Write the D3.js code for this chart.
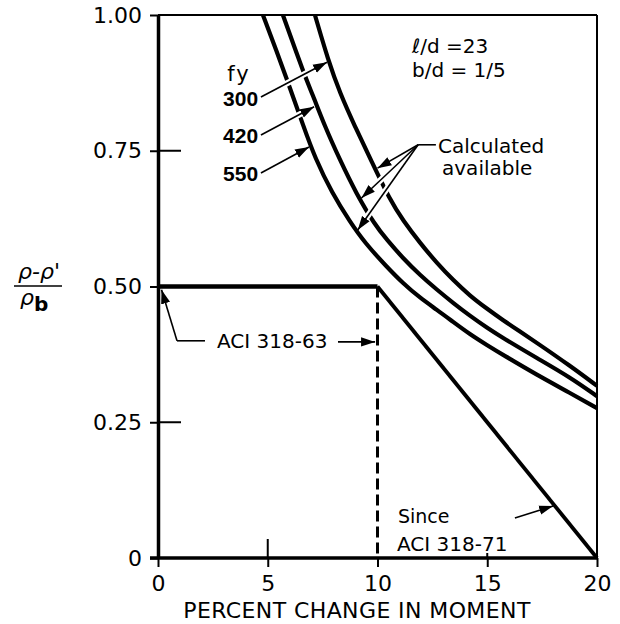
<!DOCTYPE html>
<html>
<head>
<meta charset="utf-8">
<script src="https://cdn.jsdelivr.net/npm/d3@7"></script>
<style>
  html, body { margin: 0; padding: 0; background: #fff; }
  svg { display: block; }
  text { font-family: "DejaVu Sans", sans-serif; fill: #000; }
</style>
</head>
<body>
<div id="chart"></div>
<script>
// ---------- data ----------
const xTicks = [0, 5, 10, 15, 20];
const xTickLabels = ["0", "5", "10", "15", "20"];
const yTicks = [0, 0.25, 0.5, 0.75, 1];
const yTickLabels = ["0", "0.25", "0.50", "0.75", "1.00"];
const xTitle = "PERCENT CHANGE IN MOMENT";

// calculated available curves, one per fy
const fyLabels = ["300", "420", "550"];
const curve300X = [7.15, 7.75, 8.29, 8.98, 9.70, 10.57, 11.16, 11.94, 12.71, 13.44, 14.21, 14.99, 15.72, 16.49, 17.27, 18.77, 20];
const curve300Y = [1.00, 0.917, 0.856, 0.794, 0.733, 0.659, 0.622, 0.580, 0.543, 0.512, 0.483, 0.459, 0.438, 0.417, 0.396, 0.354, 0.317];
const curve420X = [5.69, 6.70, 7.02, 7.61, 8.29, 9.02, 9.89, 10.43, 11.16, 11.94, 12.71, 13.44, 14.21, 14.99, 15.72, 17.27, 18.77, 20];
const curve420Y = [1.00, 0.886, 0.856, 0.794, 0.733, 0.672, 0.613, 0.586, 0.552, 0.521, 0.494, 0.470, 0.446, 0.424, 0.405, 0.368, 0.333, 0.298];
const curve550X = [4.78, 5.38, 6.01, 6.61, 7.15, 7.93, 8.75, 9.43, 10.43, 11.16, 11.94, 12.71, 13.44, 14.21, 14.99, 15.72, 17.27, 18.77, 20];
const curve550Y = [1.00, 0.936, 0.866, 0.797, 0.737, 0.672, 0.619, 0.580, 0.536, 0.506, 0.479, 0.457, 0.435, 0.412, 0.392, 0.374, 0.337, 0.304, 0.276];

// code limits
const aci63X = [0, 10];
const aci63Y = [0.5, 0.5];
const aci63DropX = [10, 10];
const aci63DropY = [0.5, 0];
const aci71X = [10, 20];
const aci71Y = [0.5, 0];

// ---------- layout ----------
const W = 620, H = 624;
const x = d3.scaleLinear().domain([0, 20]).range([158, 597]);
const y = d3.scaleLinear().domain([0, 1]).range([558, 15]);

const svg = d3.select("#chart").append("svg").attr("width", W).attr("height", H);

const defs = svg.append("defs");
defs.append("marker")
  .attr("id", "ah")
  .attr("viewBox", "-14 -5 15 10")
  .attr("refX", 0).attr("refY", 0)
  .attr("markerWidth", 15).attr("markerHeight", 10)
  .attr("markerUnits", "userSpaceOnUse")
  .attr("orient", "auto")
  .append("path").attr("d", "M0,0L-14,-4.6L-14,4.6Z").attr("fill", "#000");

const zip = (xs, ys) => xs.map((v, i) => [v, ys[i]]);
const line = d3.line().x(d => x(d[0])).y(d => y(d[1]));
const smooth = d3.line().x(d => x(d[0])).y(d => y(d[1])).curve(d3.curveBasis);

// ---------- frame ----------
svg.append("line").attr("x1", x(0)).attr("x2", x(20)).attr("y1", y(1)).attr("y2", y(1))
  .attr("stroke", "#000").attr("stroke-width", 2);
svg.append("line").attr("x1", x(20)).attr("x2", x(20)).attr("y1", y(1)).attr("y2", y(0))
  .attr("stroke", "#000").attr("stroke-width", 2);

// y axis
const yAxis = d3.axisLeft(y).tickValues(yTicks).tickSize(8).tickSizeOuter(0)
  .tickFormat((d, i) => yTickLabels[i]).tickPadding(8);
const gy = svg.append("g").attr("transform", `translate(${x(0)},0)`).call(yAxis);
gy.select(".domain").attr("stroke-width", 3.5);
gy.selectAll(".tick line").attr("stroke-width", 2);
gy.selectAll(".tick text").attr("font-size", 22).attr("font-family", "DejaVu Sans").attr("fill", "#000");
svg.selectAll(".yin").data(yTicks.filter(v => v === 0.25 || v === 0.75)).enter().append("line")
  .attr("x1", x(0)).attr("x2", x(0) + 23).attr("y1", d => y(d)).attr("y2", d => y(d))
  .attr("stroke", "#000").attr("stroke-width", 2);

// x axis
const xAxis = d3.axisBottom(x).tickValues(xTicks).tickSize(9).tickSizeOuter(0)
  .tickFormat((d, i) => xTickLabels[i]).tickPadding(8);
const gx = svg.append("g").attr("transform", `translate(0,${y(0)})`).call(xAxis);
gx.select(".domain").attr("stroke-width", 3.5).attr("d", `M${x(0) - 8},0H${x(20)}`);
gx.selectAll(".tick line").attr("stroke-width", 2);
gx.selectAll(".tick text").attr("font-size", 22).attr("font-family", "DejaVu Sans").attr("fill", "#000");
svg.selectAll(".xin").data(xTicks.filter(v => v === 5 || v === 15)).enter().append("line")
  .attr("x1", d => x(d)).attr("x2", d => x(d))
  .attr("y1", y(0)).attr("y2", d => y(0) - (d === 5 ? 19 : 5))
  .attr("stroke", "#000").attr("stroke-width", 2);

// axis titles
svg.append("text").attr("x", 357).attr("y", 618).attr("text-anchor", "middle")
  .attr("font-size", 22).attr("letter-spacing", 0.4).text(xTitle);

const yl = svg.append("g");
yl.append("text").attr("x", 39).attr("y", 279).attr("text-anchor", "middle")
  .attr("font-size", 22).attr("font-style", "italic").text("ρ-ρ'");
yl.append("line").attr("x1", 14).attr("x2", 62).attr("y1", 286).attr("y2", 286)
  .attr("stroke", "#000").attr("stroke-width", 1.6);
const den = yl.append("text").attr("x", 20).attr("y", 305).attr("font-size", 22);
den.append("tspan").attr("font-style", "italic").text("ρ");
den.append("tspan").attr("dy", 6).attr("font-weight", "bold").attr("font-size", 20).text("b");

// ---------- marks ----------
const curves = [zip(curve300X, curve300Y), zip(curve420X, curve420Y), zip(curve550X, curve550Y)];
svg.selectAll(".curve").data(curves).enter().append("path")
  .attr("class", "curve").attr("d", smooth)
  .attr("fill", "none").attr("stroke", "#000").attr("stroke-width", 4.2);

svg.append("path").attr("d", line(zip(aci63X, aci63Y)))
  .attr("fill", "none").attr("stroke", "#000").attr("stroke-width", 4.5);
svg.append("path").attr("d", line(zip(aci63DropX, aci63DropY)))
  .attr("fill", "none").attr("stroke", "#000").attr("stroke-width", 3).attr("stroke-dasharray", "11,5");
svg.append("path").attr("d", line(zip(aci71X, aci71Y)))
  .attr("fill", "none").attr("stroke", "#000").attr("stroke-width", 3.8);

// ---------- annotations (data units) ----------
const arrows = [
  [[4.69, 0.849], [7.70, 0.913]],
  [[4.69, 0.779], [7.11, 0.831]],
  [[4.69, 0.709], [6.88, 0.757]],
  [[11.85, 0.761], [10.00, 0.718]],
  [[11.85, 0.761], [9.27, 0.663]],
  [[11.85, 0.761], [9.10, 0.604]],
  [[0.866, 0.400], [0.16, 0.494]],
  [[8.20, 0.398], [9.89, 0.398]],
  [[16.26, 0.0737], [18.0, 0.0958]]
];
function shorten(d, k, len) {
  const dx = x(d[1][0]) - x(d[0][0]), dy = y(d[1][1]) - y(d[0][1]);
  const L = Math.hypot(dx, dy);
  return k === "x" ? x(d[1][0]) - dx / L * len : y(d[1][1]) - dy / L * len;
}
svg.selectAll(".halo").data(arrows).enter().append("line")
  .attr("x1", d => x(d[0][0])).attr("y1", d => y(d[0][1]))
  .attr("x2", d => shorten(d, "x", 11)).attr("y2", d => shorten(d, "y", 11))
  .attr("stroke", "#fff").attr("stroke-width", 6);
svg.selectAll(".arrow").data(arrows).enter().append("line")
  .attr("x1", d => x(d[0][0])).attr("y1", d => y(d[0][1]))
  .attr("x2", d => x(d[1][0])).attr("y2", d => y(d[1][1]))
  .attr("stroke", "#000").attr("stroke-width", 1.6).attr("marker-end", "url(#ah)");

const leaders = [
  [[11.85, 0.761], [12.66, 0.761]],
  [[0.866, 0.400], [2.14, 0.400]]
];
svg.selectAll(".leader").data(leaders).enter().append("line")
  .attr("x1", d => x(d[0][0])).attr("y1", d => y(d[0][1]))
  .attr("x2", d => x(d[1][0])).attr("y2", d => y(d[1][1]))
  .attr("stroke", "#000").attr("stroke-width", 1.6);

// texts
svg.append("text").attr("x", x(3.69)).attr("y", y(0.878)).attr("text-anchor", "middle")
  .attr("font-size", 21).attr("letter-spacing", 2).text("fy");
const fyLabelY = [0.832, 0.764, 0.694];
svg.selectAll(".fyl").data(fyLabels).enter().append("text")
  .attr("x", x(4.56)).attr("y", (d, i) => y(fyLabelY[i])).attr("text-anchor", "end")
  .attr("font-weight", "bold").attr("font-size", 21)
  .style("font-family", "Liberation Sans, Arial, sans-serif").text(d => d);

svg.append("text").attr("x", x(11.57)).attr("y", y(0.930)).attr("font-size", 20).text("ℓ/d =23");
svg.append("text").attr("x", x(11.57)).attr("y", y(0.886)).attr("font-size", 20).text("b/d = 1/5");
svg.append("text").attr("x", x(12.76)).attr("y", y(0.746)).attr("font-size", 20).text("Calculated");
svg.append("text").attr("x", x(12.94)).attr("y", y(0.705)).attr("font-size", 20).text("available");
svg.append("text").attr("x", x(2.69)).attr("y", y(0.387)).attr("font-size", 20).text("ACI 318-63");
svg.append("text").attr("x", x(10.93)).attr("y", y(0.0645)).attr("font-size", 19).text("Since");
svg.append("text").attr("x", x(10.89)).attr("y", y(0.013)).attr("font-size", 20).text("ACI 318-71");
</script>
</body>
</html>
